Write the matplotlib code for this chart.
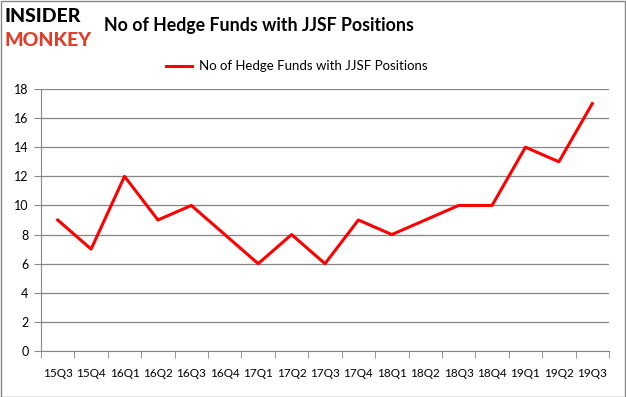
import numpy as np
import matplotlib.pyplot as plt

# 数据
quarters = ['15Q3', '15Q4', '16Q1', '16Q2', '16Q3', '16Q4', '17Q1', '17Q2', '17Q3',
            '17Q4', '18Q1', '18Q2', '18Q3', '18Q4', '19Q1', '19Q2', '19Q3']
funds = [9, 7, 12, 9, 10, 8, 6, 8, 6, 9, 8, 9, 10, 10, 14, 13, 17]
series_name = 'No of Hedge Funds with JJSF Positions'

plt.rcParams['font.family'] = ['Lato', 'DejaVu Sans']

fig = plt.figure(figsize=(6.26, 3.97), dpi=100)
ax = fig.add_axes([41 / 626, 1 - 351 / 397, 568 / 626, 262 / 397])

x = np.arange(len(quarters))
ax.plot(x, funds, color='#ff0000', linewidth=2.2, label=series_name)

ax.set_xlim(-0.5, len(quarters) - 0.5)
ax.set_ylim(0, 18)
ax.set_yticks(range(0, 19, 2))
ax.set_xticks(x)
ax.set_xticklabels(quarters)
ax.set_xticks(np.arange(-0.5, len(quarters), 1), minor=True)
ax.tick_params(axis='x', which='major', length=0, pad=12, labelsize=8.5)
ax.tick_params(axis='x', which='minor', length=5, color='#868686', direction='out')
ax.tick_params(axis='y', length=5, color='#868686', labelsize=9, pad=4)

ax.grid(axis='y', color='#868686', linewidth=0.9)
ax.set_axisbelow(True)
for side in ['top', 'right']:
    ax.spines[side].set_visible(False)
for side in ['left', 'bottom']:
    ax.spines[side].set_color('#868686')

ax.legend(loc='upper center', bbox_to_anchor=(0.45, 1.13), frameon=False,
          fontsize=9.5, handlelength=2.0, handletextpad=0.5, borderaxespad=0)

# 标题和logo
fig.text(104 / 626, 1 - 26 / 397, series_name, fontsize=12.8, fontweight='bold',
         va='center', ha='left')
fig.text(4 / 626, 1 - 17 / 397, 'INSIDER', fontsize=14, fontweight='black',
         color='black', va='center', ha='left')
fig.text(4 / 626, 1 - 40 / 397, 'MONKEY', fontsize=14, fontweight='black',
         color='#e03c28', va='center', ha='left')

# 外框
fig.patches.append(plt.Rectangle((0.001, 0.001), 0.997, 0.997, transform=fig.transFigure,
                                 fill=False, edgecolor='#868686', linewidth=1))

fig.savefig('out.png', dpi=100)
